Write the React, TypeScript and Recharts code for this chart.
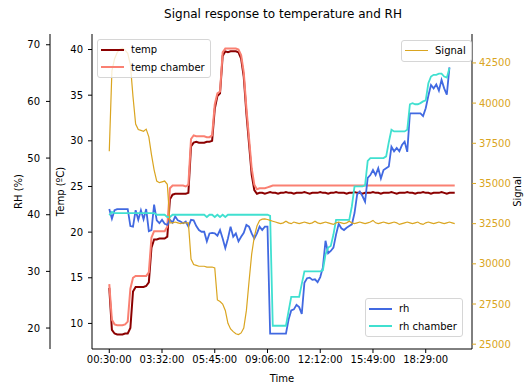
import { ComposedChart, Line, XAxis, YAxis, Legend } from 'recharts';

// x positions are sample indices; only every 20th sample gets a time label
const tickIdx = [0, 20, 40, 60, 80, 100, 120];
const tickLabels = ['00:30:00', '03:32:00', '05:45:00', '09:06:00', '12:12:00', '15:49:00', '18:29:00'];

const temp = [
  13.9, 9.3, 8.9, 8.8, 8.8, 8.8, 8.9, 8.9, 9.5, 13.5,
  14.0, 14.0, 14.0, 14.0, 14.1, 14.5, 18.3, 19.2, 19.2, 19.3,
  19.3, 19.3, 19.5, 23.6, 24.1, 24.2, 24.2, 24.2, 24.2, 24.2,
  24.3, 29.4, 29.8, 29.9, 29.8, 29.8, 29.8, 29.9, 29.9, 30.0,
  33.5, 34.9, 35.2, 39.3, 39.8, 39.7, 39.8, 39.8, 39.8, 39.7,
  39.0, 37.0, 33.0, 29.7, 26.3, 24.6, 24.2, 24.3, 24.3, 24.2,
  24.3, 24.4, 24.3, 24.3, 24.2, 24.3, 24.3, 24.4, 24.3, 24.3,
  24.2, 24.3, 24.3, 24.3, 24.4, 24.3, 24.2, 24.3, 24.3, 24.3,
  24.4, 24.3, 24.3, 24.2, 24.3, 24.3, 24.4, 24.3, 24.3, 24.3,
  24.2, 24.3, 24.3, 24.4, 24.3, 24.3, 24.2, 24.3, 24.3, 24.3,
  24.4, 24.3, 24.3, 24.2, 24.3, 24.3, 24.3, 24.4, 24.3, 24.2,
  24.3, 24.3, 24.3, 24.4, 24.3, 24.3, 24.2, 24.3, 24.3, 24.4,
  24.3, 24.3, 24.2, 24.3, 24.3, 24.3, 24.4, 24.3, 24.2, 24.3,
  24.3, 24.3,
];

const tempChamber = [
  14.3, 10.4, 9.9, 9.8, 9.8, 9.8, 9.9, 10.2, 13.8, 15.0,
  15.2, 15.2, 15.2, 15.2, 15.2, 15.6, 19.4, 20.1, 20.1, 20.1,
  20.1, 20.1, 20.6, 24.8, 25.1, 25.1, 25.1, 25.1, 25.1, 25.0,
  25.2, 30.2, 30.6, 30.5, 30.5, 30.5, 30.5, 30.4, 30.4, 30.6,
  34.0, 35.2, 35.4, 39.7, 40.1, 40.1, 40.1, 40.1, 40.1, 40.0,
  39.4, 37.5, 33.6, 30.3, 27.0, 25.2, 24.7, 24.8, 24.8, 24.8,
  24.9, 25.0, 25.1, 25.1, 25.1, 25.1, 25.1, 25.1, 25.1, 25.1,
  25.1, 25.1, 25.1, 25.1, 25.1, 25.1, 25.1, 25.1, 25.1, 25.1,
  25.1, 25.1, 25.1, 25.1, 25.1, 25.1, 25.1, 25.1, 25.1, 25.1,
  25.1, 25.1, 25.1, 25.1, 25.1, 25.1, 25.1, 25.1, 25.1, 25.1,
  25.1, 25.1, 25.1, 25.1, 25.1, 25.1, 25.1, 25.1, 25.1, 25.1,
  25.1, 25.1, 25.1, 25.1, 25.1, 25.1, 25.1, 25.1, 25.1, 25.1,
  25.1, 25.1, 25.1, 25.1, 25.1, 25.1, 25.1, 25.1, 25.1, 25.1,
  25.1, 25.1,
];

const rh = [
  41.0, 39.3, 40.8, 41.0, 41.0, 41.0, 41.0, 41.0, 38.0, 37.9,
  40.8, 39.1, 40.8, 39.2, 41.0, 37.1, 37.3, 41.8, 39.0, 38.5,
  39.1, 38.4, 38.2, 39.1, 38.6, 39.7, 39.0, 38.8, 38.5, 38.8,
  37.9, 39.1, 39.0, 38.0, 37.3, 37.0, 37.0, 35.3, 36.7, 36.8,
  36.7, 36.3, 37.3, 35.8, 34.1, 35.8, 37.9, 36.1, 36.7, 35.3,
  36.1, 36.8, 38.2, 37.9, 36.7, 35.8, 36.7, 37.9, 37.3, 37.9,
  37.9, 19.0, 19.0, 19.0, 19.0, 19.0, 19.0, 19.0, 21.5, 23.1,
  23.3, 24.1, 23.7, 22.5, 28.0, 28.8, 28.9, 28.5, 28.6, 28.1,
  29.0, 30.7, 35.4, 33.2, 33.6, 34.2, 36.5, 38.4, 37.6, 37.3,
  37.7, 38.0, 38.3, 40.3, 43.6, 44.1, 43.3, 42.3, 46.5, 47.0,
  47.9, 47.0, 48.2, 46.4, 47.9, 48.2, 48.5, 52.0, 51.2, 51.8,
  51.2, 52.3, 52.9, 51.1, 57.9, 57.9, 57.9, 57.9, 57.9, 57.4,
  58.8, 61.0, 62.9, 62.3, 63.0, 61.9, 63.8, 62.3, 61.2, 66.0,
];

const rhChamber = [
  39.9, 40.5, 40.3, 40.3, 40.3, 40.3, 40.3, 40.3, 40.3, 40.3,
  40.3, 40.3, 40.3, 40.3, 40.3, 40.3, 40.3, 40.3, 40.0, 40.0,
  40.0, 40.0, 39.6, 39.6, 40.0, 40.0, 40.0, 40.0, 40.0, 40.0,
  40.0, 40.0, 40.0, 40.0, 40.0, 40.0, 40.0, 39.6, 40.0, 40.0,
  39.6, 40.0, 39.6, 40.0, 39.6, 40.0, 40.0, 40.0, 40.0, 40.0,
  40.0, 40.0, 40.0, 40.0, 40.0, 40.0, 40.0, 40.0, 40.0, 40.0,
  40.0, 39.8, 20.4, 20.4, 20.4, 20.4, 20.4, 20.4, 23.0, 25.5,
  25.5, 25.5, 25.5, 27.8, 30.0, 30.0, 30.0, 30.0, 30.0, 30.0,
  30.0, 30.2, 33.0, 34.2, 34.5, 36.5, 39.1, 39.1, 39.1, 39.1,
  39.1, 39.1, 41.5, 45.0, 45.0, 45.0, 45.0, 45.2, 49.5, 50.0,
  50.0, 50.0, 50.0, 50.0, 50.0, 50.3, 52.8, 55.0, 54.7, 54.7,
  54.7, 54.7, 54.7, 55.0, 59.5, 59.7, 59.5, 59.5, 59.7, 60.0,
  60.2, 63.2, 64.4, 64.7, 64.7, 64.9, 64.9, 64.4, 64.2, 65.9,
];

const signal = [
  37000, 42000, 42750, 43150, 43350, 43420, 43300, 43100, 42400, 40400,
  38700, 38350, 38300, 38250, 38380, 37900, 36800, 35850, 35150, 35050,
  35100, 35150, 34950, 32550, 32550, 32600, 32550, 32500, 32550, 32550,
  32550, 30300, 29950, 29900, 29850, 29850, 29850, 29800, 29800, 29800,
  29750, 27750, 27650, 27500, 27100, 26300, 25950, 25780, 25650, 25600,
  25700, 26000, 27100, 28900, 30600, 31700, 32350, 32700, 32780, 32800,
  32760, 32700, 32650, 32600, 32550, 32500, 32550, 32650, 32550, 32500,
  32600, 32550, 32500, 32550, 32600, 32550, 32500, 32550, 32650, 32550,
  32500, 32550, 32600, 32550, 32500, 32450, 32550, 32600, 32550, 32500,
  32550, 32650, 32550, 32500, 32550, 32600, 32550, 32500, 32550, 32600,
  32700, 32550, 32500, 32550, 32600, 32550, 32500, 32550, 32600, 32550,
  32450, 32500, 32550, 32600, 32550, 32500, 32550, 32600, 32500, 32450,
  32550, 32600, 32550, 32500, 32550, 32600, 32550, 32500, 32550, 32600,
  32550, 32500,
];

const tempTicks = [10, 15, 20, 25, 30, 35, 40];
const rhTicks = [20, 30, 40, 50, 60, 70];
const signalTicks = [25000, 27500, 30000, 32500, 35000, 37500, 40000, 42500];

const data = signal.map((s, i) => ({
  i,
  temp: temp[i],
  tempChamber: tempChamber[i],
  rh: rh[i] ?? null,
  rhChamber: rhChamber[i] ?? null,
  signal: s,
}));

// recharts stacks same-side axes by id, so ids are chosen to put temp next to the plot
const TEMP_AXIS = 'a-temp';
const RH_AXIS = 'b-rh';
const SIGNAL_AXIS = 'c-signal';

const FONT = 'DejaVu Sans, sans-serif';
const tickStyle = { fill: '#000', fontSize: 10, fontFamily: FONT };
const labelStyle = { fill: '#000', fontSize: 10, fontFamily: FONT };

// legend boxes, matplotlib style (ax1 upper left, ax3 upper right, ax2 lower right)
const legendBoxes = [
  { keys: ['temp', 'tempChamber'], left: 97, top: 39 },
  { keys: ['signal'], left: 401, top: 40 },
  { keys: ['rh', 'rhChamber'], left: 365, top: 298 },
];

// eslint-disable-next-line @typescript-eslint/no-explicit-any
const renderLegend = (props: any) => {
  const payload = props.payload || [];
  return (
    <div style={{ position: 'relative', width: 524, height: 383 }}>
      {legendBoxes.map((box, bi) => (
        <div
          key={bi}
          style={{
            position: 'absolute',
            left: box.left,
            top: box.top,
            padding: '1px 5px 1px 3px',
            background: 'rgba(255,255,255,0.8)',
            border: '1px solid #d6d6d6',
            borderRadius: 3,
            fontSize: 10,
            fontFamily: FONT,
            color: '#000',
          }}
        >
          {payload
            // eslint-disable-next-line @typescript-eslint/no-explicit-any
            .filter((p: any) => box.keys.includes(p.dataKey))
            // eslint-disable-next-line @typescript-eslint/no-explicit-any
            .map((p: any) => (
              <div key={p.dataKey} style={{ display: 'flex', alignItems: 'center', height: 17.5 }}>
                <span
                  style={{
                    display: 'inline-block',
                    width: 23,
                    borderTop: `${p.dataKey === 'signal' ? 1.2 : 2}px solid ${p.color}`,
                    marginRight: 7,
                  }}
                />
                <span style={{ whiteSpace: 'nowrap' }}>{p.value}</span>
              </div>
            ))}
        </div>
      ))}
    </div>
  );
};

export default function App() {
  return (
    <div
      style={{
        position: 'absolute',
        left: 0,
        top: 0,
        width: 524,
        height: 383,
        overflow: 'hidden',
        background: '#fff',
        fontFamily: FONT,
      }}
    >
      <div
        style={{
          position: 'absolute',
          left: 283,
          top: 7,
          transform: 'translateX(-50%)',
          whiteSpace: 'nowrap',
          fontSize: 12,
          color: '#000',
        }}
      >
        Signal response to temperature and RH
      </div>
      <ComposedChart width={524} height={383} data={data} margin={{ top: 34, right: 0, bottom: 0, left: 0 }}>
        <XAxis
          dataKey="i"
          type="number"
          domain={[-6.55, 137.55]}
          allowDataOverflow
          ticks={tickIdx}
          interval={0}
          tickFormatter={(v) => tickLabels[tickIdx.indexOf(v)] ?? ''}
          height={34}
          tick={tickStyle}
          tickSize={4}
          tickMargin={3}
          axisLine={{ stroke: '#000' }}
          tickLine={{ stroke: '#000' }}
          label={{ value: 'Time', position: 'insideBottom', offset: 1, style: labelStyle }}
        />
        <XAxis
          xAxisId="top"
          orientation="top"
          dataKey="i"
          type="number"
          domain={[-6.55, 137.55]}
          allowDataOverflow
          height={0}
          tick={false}
          tickLine={false}
          axisLine={{ stroke: '#000' }}
        />
        <YAxis
          yAxisId={TEMP_AXIS}
          orientation="left"
          width={42}
          type="number"
          domain={[7.2, 41.7]}
          allowDataOverflow
          ticks={tempTicks}
          interval={0}
          tick={tickStyle}
          tickSize={4}
          tickMargin={5}
          axisLine={{ stroke: '#000' }}
          tickLine={{ stroke: '#000' }}
          label={{ value: 'Temp (ºC)', angle: -90, position: 'center', dx: -11, style: labelStyle }}
        />
        <YAxis
          yAxisId={RH_AXIS}
          orientation="left"
          width={50}
          type="number"
          domain={[16.3, 71.9]}
          allowDataOverflow
          ticks={rhTicks}
          interval={0}
          tick={tickStyle}
          tickSize={4}
          tickMargin={6}
          axisLine={{ stroke: '#000' }}
          tickLine={{ stroke: '#000' }}
          label={{ value: 'RH (%)', angle: -90, position: 'center', dx: -7, style: labelStyle }}
        />
        <YAxis
          yAxisId={SIGNAL_AXIS}
          orientation="right"
          width={52}
          type="number"
          domain={[24700, 44300]}
          allowDataOverflow
          ticks={signalTicks}
          interval={0}
          tick={{ ...tickStyle, fill: '#daa520' }}
          tickSize={4}
          tickMargin={3}
          axisLine={{ stroke: '#000' }}
          tickLine={{ stroke: '#daa520' }}
          label={{ value: 'Signal', angle: -90, position: 'center', dx: 19, style: labelStyle }}
        />
        <Legend
          layout="horizontal"
          verticalAlign="middle"
          align="center"
          content={renderLegend}
          wrapperStyle={{ left: 0, top: 0, width: 524, height: 383, pointerEvents: 'none' }}
        />
        <Line yAxisId={TEMP_AXIS} type="linear" dataKey="temp" name="temp" stroke="#8b0000" strokeWidth={2} dot={false} isAnimationActive={false} />
        <Line yAxisId={TEMP_AXIS} type="linear" dataKey="tempChamber" name="temp chamber" stroke="#fa8072" strokeWidth={2} dot={false} isAnimationActive={false} />
        <Line yAxisId={RH_AXIS} type="linear" dataKey="rh" name="rh" stroke="#4169e1" strokeWidth={1.8} dot={false} isAnimationActive={false} />
        <Line yAxisId={RH_AXIS} type="linear" dataKey="rhChamber" name="rh chamber" stroke="#40e0d0" strokeWidth={1.8} dot={false} isAnimationActive={false} />
        <Line yAxisId={SIGNAL_AXIS} type="linear" dataKey="signal" name="Signal" stroke="#daa520" strokeWidth={1.2} dot={false} isAnimationActive={false} />
      </ComposedChart>
    </div>
  );
}
